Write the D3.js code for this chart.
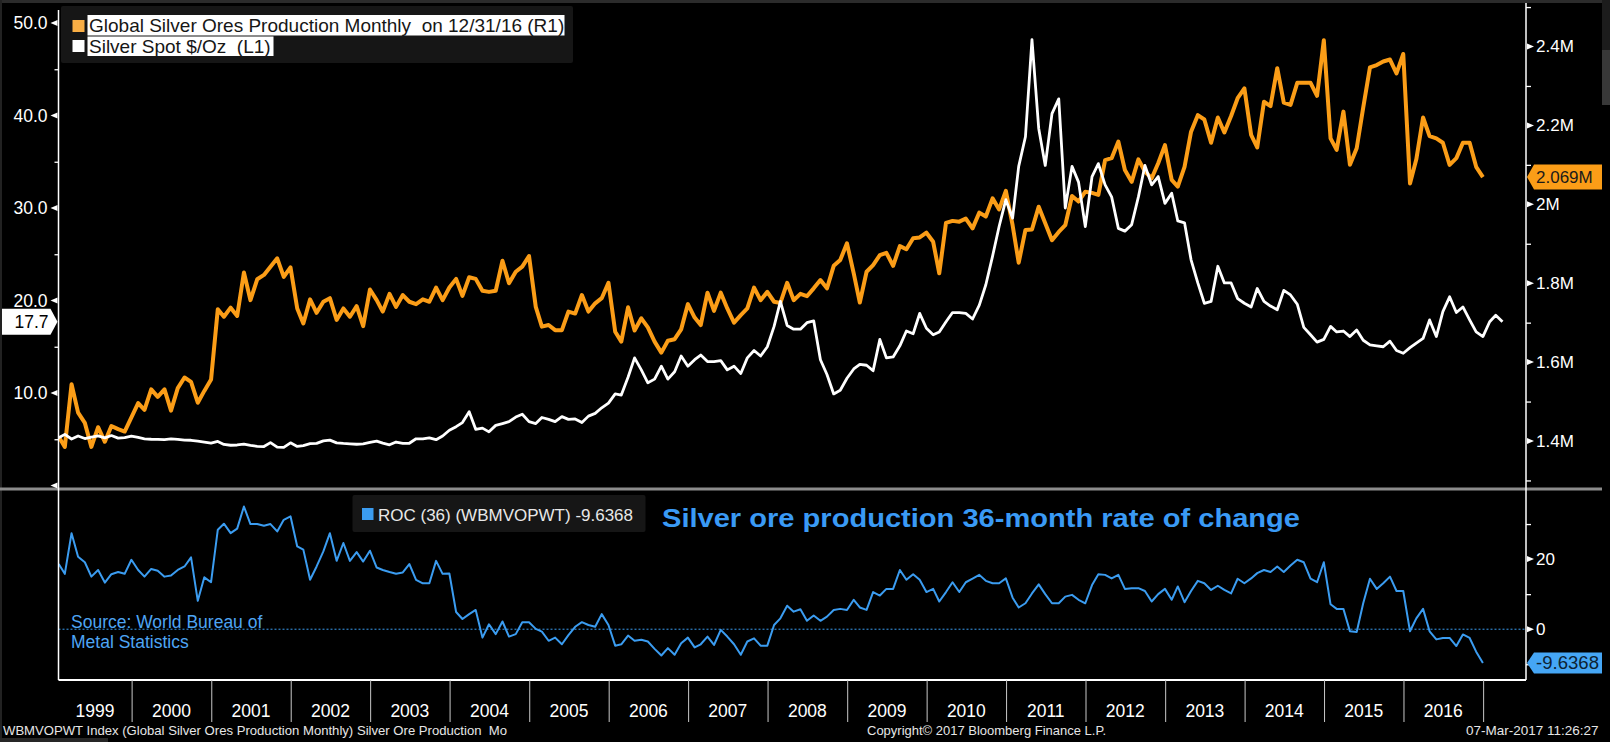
<!DOCTYPE html>
<html>
<head>
<meta charset="utf-8">
<script src="https://cdn.jsdelivr.net/npm/d3@7"></script>
<style>
body { margin: 0; background: #000; overflow: hidden; }
text { white-space: pre; }
</style>
</head>
<body>
<div id="chart"></div>
<script>
// monthly series, first point = end of Jan 1999
var firstYear = 1999;

// Global Silver Ores Production Monthly (R1), in millions
var production = [
  1.411, 1.385, 1.544, 1.472, 1.446, 1.385, 1.435, 1.398, 1.438, 1.430, 1.424, 1.460,
  1.496, 1.479, 1.531, 1.512, 1.531, 1.477, 1.534, 1.561, 1.550, 1.497, 1.527, 1.556,
  1.734, 1.715, 1.738, 1.717, 1.827, 1.757, 1.810, 1.821, 1.842, 1.863, 1.816, 1.840,
  1.736, 1.698, 1.759, 1.725, 1.753, 1.762, 1.707, 1.736, 1.715, 1.742, 1.691, 1.784,
  1.757, 1.728, 1.773, 1.740, 1.770, 1.753, 1.747, 1.759, 1.753, 1.789, 1.757, 1.789,
  1.811, 1.768, 1.815, 1.811, 1.781, 1.778, 1.781, 1.857, 1.800, 1.829, 1.842, 1.869,
  1.740, 1.690, 1.694, 1.681, 1.681, 1.728, 1.723, 1.770, 1.728, 1.749, 1.762, 1.801,
  1.677, 1.652, 1.739, 1.680, 1.711, 1.688, 1.652, 1.624, 1.654, 1.658, 1.683, 1.747,
  1.713, 1.694, 1.776, 1.730, 1.776, 1.736, 1.700, 1.719, 1.736, 1.789, 1.757, 1.778,
  1.753, 1.750, 1.801, 1.757, 1.773, 1.767, 1.787, 1.808, 1.787, 1.844, 1.859, 1.901,
  1.825, 1.751, 1.829, 1.846, 1.871, 1.877, 1.844, 1.894, 1.886, 1.914, 1.916, 1.928,
  1.905, 1.825, 1.953, 1.958, 1.956, 1.964, 1.939, 1.979, 1.969, 2.015, 1.987, 2.034,
  1.947, 1.852, 1.935, 1.936, 1.994, 1.952, 1.909, 1.930, 1.947, 2.021, 2.007, 2.032,
  2.029, 2.024, 2.112, 2.117, 2.159, 2.087, 2.057, 2.114, 2.083, 2.066, 2.104, 2.150,
  2.062, 2.045, 2.095, 2.184, 2.226, 2.215, 2.156, 2.220, 2.182, 2.224, 2.269, 2.294,
  2.176, 2.144, 2.260, 2.249, 2.345, 2.258, 2.252, 2.308, 2.308, 2.308, 2.275, 2.416,
  2.167, 2.138, 2.235, 2.100, 2.142, 2.245, 2.347, 2.353, 2.362, 2.367, 2.332, 2.381,
  2.053, 2.114, 2.220, 2.173, 2.167, 2.156, 2.100, 2.117, 2.156, 2.156, 2.095, 2.069
];

// Silver Spot $/Oz (L1)
var silver = [
  5.16, 5.53, 5.03, 5.35, 5.08, 5.23, 5.36, 5.15, 5.40, 5.12, 5.17, 5.33,
  5.20, 5.05, 5.00, 4.99, 4.95, 5.03, 4.98, 4.90, 4.89, 4.79, 4.70, 4.58,
  4.77, 4.44, 4.35, 4.38, 4.47, 4.33, 4.24, 4.21, 4.64, 4.15, 4.13, 4.61,
  4.22, 4.31, 4.52, 4.56, 4.83, 4.91, 4.61, 4.55, 4.51, 4.46, 4.51, 4.67,
  4.80, 4.58, 4.40, 4.70, 4.56, 4.57, 5.05, 5.03, 5.15, 4.95, 5.35, 5.97,
  6.36, 6.80, 7.98, 6.07, 6.20, 5.80, 6.50, 6.70, 6.90, 7.40, 7.70, 6.90,
  6.70, 7.35, 7.15, 6.90, 7.45, 7.15, 7.20, 6.80, 7.50, 7.80, 8.40, 8.90,
  9.90, 9.78, 11.70, 13.80, 12.50, 11.10, 11.50, 12.90, 11.50, 12.30, 14.00, 12.90,
  13.60, 14.10, 13.40, 13.40, 13.50, 12.50, 12.90, 12.10, 13.80, 14.60, 14.00, 15.00,
  17.20, 19.90, 17.30, 16.90, 16.90, 17.60, 17.80, 13.60, 12.00, 9.90, 10.30, 11.60,
  12.60, 13.10, 13.00, 12.40, 15.80, 13.80, 13.90, 15.10, 16.70, 16.40, 18.60, 17.00,
  16.30, 16.60, 17.70, 18.70, 18.70, 18.60, 18.00, 19.50, 21.70, 24.80, 28.00, 30.90,
  28.90, 34.50, 37.70, 48.20, 38.60, 34.60, 40.20, 41.80, 30.00, 34.50, 32.80, 28.00,
  33.40, 34.80, 32.50, 31.20, 27.80, 27.50, 28.20, 31.20, 34.60, 32.50, 33.40, 30.50,
  31.60, 28.60, 28.40, 24.40, 21.90, 19.70, 19.90, 23.70, 21.90, 21.90, 20.20, 19.70,
  19.30, 21.30, 19.90, 19.40, 19.00, 21.10, 20.60, 19.60, 17.10, 16.30, 15.50, 15.80,
  17.20, 16.60, 16.70, 16.10, 16.80, 15.70, 15.20, 15.10, 15.00, 15.60, 14.60, 14.30,
  14.90, 15.40, 15.90, 17.90, 16.10, 18.80, 20.40, 18.70, 19.30, 17.90, 16.60, 16.10,
  17.70, 18.40, 17.70
];

// ROC (36) of WBMVOPWT
var roc = [
  18.6, 15.8, 27.4, 20.7, 19.1, 15.0, 16.9, 13.3, 15.7, 16.3, 15.8, 19.8,
  16.9, 15.0, 17.2, 16.7, 15.0, 15.3, 16.9, 17.9, 20.5, 8.1, 14.8, 13.4,
  28.4, 30.1, 27.4, 28.7, 35.0, 30.0, 30.0, 29.5, 30.0, 27.9, 31.2, 32.2,
  23.6, 22.7, 14.1, 17.9, 22.2, 27.4, 19.5, 24.6, 19.5, 22.0, 19.3, 22.4,
  17.6, 16.9, 16.3, 15.8, 16.2, 18.6, 14.1, 13.1, 13.1, 19.5, 15.8, 15.9,
  4.9, 2.9, 4.3, 5.5, -2.4, 1.4, -1.4, 2.2, -2.1, -1.4, 2.0, 2.0,
  0.1, -0.7, -3.3, -2.4, -4.3, -1.7, 0.7, 2.0, 1.2, 0.7, 4.3, 1.2,
  -4.7, -4.3, -1.8, -3.3, -3.0, -3.5, -5.6, -7.5, -5.4, -7.3, -4.0, -2.4,
  -5.2, -4.3, -2.1, -4.5, -0.2, -2.1, -4.3, -7.3, -3.5, -2.6, -4.7, -4.7,
  1.2, 3.1, 6.7, 5.0, 5.7, 2.4, 3.9, 2.4, 3.6, 5.5, 5.8, 5.5,
  8.4, 6.2, 5.5, 10.6, 9.6, 11.5, 11.5, 16.9, 14.1, 15.7, 14.1, 10.6,
  11.5, 7.9, 10.6, 13.4, 10.6, 13.4, 14.4, 15.5, 13.8, 13.1, 13.1, 14.5,
  9.0, 6.2, 7.4, 10.2, 12.8, 10.0, 7.4, 7.4, 9.3, 9.8, 8.4, 7.4,
  12.6, 15.7, 15.5, 14.5, 15.5, 11.5, 11.7, 11.7, 10.9, 7.9, 10.0, 11.5,
  8.4, 12.2, 7.7, 10.9, 13.8, 13.1, 11.2, 12.4, 11.2, 10.2, 14.4, 13.1,
  14.5, 16.0, 16.9, 16.3, 17.9, 16.3, 18.2, 19.8, 19.1, 14.4, 13.4, 19.1,
  7.1, 5.8, 5.8, -0.6, -0.8, 7.4, 14.4, 11.5, 13.1, 15.0, 10.9, 10.9,
  -0.6, 3.1, 5.8, -0.6, -2.9, -2.5, -2.5, -4.8, -1.5, -2.5, -6.4, -9.6368
];

var years = ["1999","2000","2001","2002","2003","2004","2005","2006","2007",
             "2008","2009","2010","2011","2012","2013","2014","2015","2016"];
var leftTicks = [10, 20, 30, 40, 50];
var leftMinor = [5, 15, 25, 35, 45];
var rightTicks = [1.4, 1.6, 1.8, 2.0, 2.2, 2.4];
var rightMinor = [1.3, 1.5, 1.7, 1.9, 2.1, 2.3, 2.5];
var rocTicks = [0, 20];
var rocMinor = [-10, 10, 30];

var W = 1610, H = 742;
var plotL = 58.5, plotR = 1526, topT = 4.5, topB = 485.5, sepY = 489, botB = 680;
var orange = "#fb9d17", blue = "#3b9cf0";
var font = "'Liberation Sans', Arial, sans-serif";

var svg = d3.select("#chart").append("svg")
    .attr("width", W).attr("height", H)
    .style("font-family", font);

function drawrect(x, y, w, h, col) {
    return svg.append("rect").attr("x", x).attr("y", y)
        .attr("width", w).attr("height", h).attr("fill", col);
}

function disptext(tex, x, y, col, size) {
    return svg.append("text").text(tex)
        .attr("x", x).attr("y", y)
        .attr("font-size", size).attr("fill", col);
}

// squeeze/stretch a text to the width it has in the picture
function fit(t, target) {
    var w = t.node().getComputedTextLength();
    if (Math.abs(w - target) / target > 0.02) {
        t.attr("textLength", target).attr("lengthAdjust", "spacingAndGlyphs");
    }
    return t;
}

function monthEnd(i) {
    return new Date(firstYear, i + 1, 0);
}

var x = d3.scaleTime().domain([new Date(1999, 0, 30), new Date(2017, 6, 17)]).range([plotL, plotR]);
var yL = d3.scaleLinear().domain([0, 52]).range([topB, topT]);
var yR = d3.scaleLinear().domain([1.2872, 2.5065]).range([topB, topT]);
var yB = d3.scaleLinear().domain([-14.49, 40]).range([botB, sepY]);

// frame
drawrect(0, 0, W, H, "#000");
drawrect(0, 0, W, 3, "#2b2b2b");
drawrect(0, 0, 2, H, "#222");
drawrect(1602, 0, 8, 50, "#1c1c1c");
drawrect(1602, 50, 8, 55, "#383838");
drawrect(0, 738, 108, 4, "#262626");

var defs = svg.append("defs");
defs.append("clipPath").attr("id", "clipTop").append("rect")
    .attr("x", plotL).attr("y", 3).attr("width", plotR - plotL).attr("height", sepY - 3);
defs.append("clipPath").attr("id", "clipBot").append("rect")
    .attr("x", plotL).attr("y", sepY + 2).attr("width", plotR - plotL).attr("height", botB - sepY - 2);

// top legend
drawrect(61, 6, 512, 57, "#161616").attr("rx", 2);
drawrect(72.5, 20, 12, 12, "#f9ae45");
drawrect(87.5, 15, 477, 20.5, "#fff");
fit(disptext("Global Silver Ores Production Monthly  on 12/31/16 (R1)", 89, 32, "#161616", 19), 473);
drawrect(72.5, 40, 12, 12, "#fff");
drawrect(87.5, 36.5, 186, 19.5, "#fff");
fit(disptext("Silver Spot $/Oz  (L1)", 89, 52.5, "#161616", 19), 182);

// series, top panel
var lineR = d3.line().x(function(d, i) { return x(monthEnd(i)); }).y(function(d) { return yR(d); });
var lineL = d3.line().x(function(d, i) { return x(monthEnd(i)); }).y(function(d) { return yL(d); });
var lineB = d3.line().x(function(d, i) { return x(monthEnd(i)); }).y(function(d) { return yB(d); });

svg.append("path").datum(production).attr("clip-path", "url(#clipTop)")
    .attr("d", lineR).attr("fill", "none").attr("stroke", orange)
    .attr("stroke-width", 4).attr("stroke-linejoin", "round");
svg.append("path").datum(silver).attr("clip-path", "url(#clipTop)")
    .attr("d", lineL).attr("fill", "none").attr("stroke", "#fff")
    .attr("stroke-width", 2.8).attr("stroke-linejoin", "round");

// bottom panel
svg.append("line").attr("x1", plotL).attr("x2", plotR)
    .attr("y1", yB(0)).attr("y2", yB(0))
    .attr("stroke", blue).attr("stroke-width", 1).attr("stroke-dasharray", "2,2");

disptext("Source: World Bureau of", 71, 628, "#4ea5f4", 17.5);
disptext("Metal Statistics", 71, 647.5, "#4ea5f4", 17.5);

svg.append("path").datum(roc).attr("clip-path", "url(#clipBot)")
    .attr("d", lineB).attr("fill", "none").attr("stroke", blue)
    .attr("stroke-width", 2).attr("stroke-linejoin", "round");

drawrect(352.5, 495, 293, 37, "#161616").attr("rx", 2);
drawrect(362, 508, 11.5, 12, blue);
fit(disptext("ROC (36) (WBMVOPWT) " + roc[roc.length - 1], 378, 520.5, "#e8e8e8", 17), 258);

fit(disptext("Silver ore production 36-month rate of change", 662, 527, "#3a9af5", 26)
    .attr("font-weight", "bold"), 638);

// separator between panels
drawrect(0, sepY - 1.5, 1602, 3, "#8c8c8c");

// axis lines
svg.append("line").attr("x1", plotL).attr("x2", plotL).attr("y1", 10).attr("y2", botB)
    .attr("stroke", "#fff").attr("stroke-width", 1.5);
svg.append("line").attr("x1", plotR).attr("x2", plotR).attr("y1", 3).attr("y2", botB)
    .attr("stroke", "#fff").attr("stroke-width", 1.5);
svg.append("line").attr("x1", plotL).attr("x2", plotR).attr("y1", botB).attr("y2", botB)
    .attr("stroke", "#fff").attr("stroke-width", 2);

function styleAxis(g, size) {
    g.select(".domain").remove();
    g.selectAll("text").attr("fill", "#fff").attr("font-size", size).style("font-family", font);
    g.selectAll(".tick line").attr("stroke", "#fff").attr("stroke-width", 1.3);
}

// left axis (silver)
var gL = svg.append("g").attr("transform", "translate(" + plotL + ",0)")
    .call(d3.axisLeft(yL).tickValues(leftTicks).tickSize(0).tickPadding(11).tickFormat(d3.format(".1f")));
styleAxis(gL, 17.5);
svg.append("g").attr("transform", "translate(" + plotL + ",0)")
    .call(d3.axisLeft(yL).tickValues(leftMinor).tickSize(4).tickFormat(""))
    .call(styleAxis, 17.5);
svg.selectAll(".markL").data(leftTicks.concat([0])).enter().append("path")
    .attr("d", function(d) { var y = yL(d); return "M" + (plotL - 1) + "," + (y - 3) + "L" + (plotL - 8) + "," + y + "L" + (plotL - 1) + "," + (y + 3) + "Z"; })
    .attr("fill", "#fff");

// right axis (production)
var gR = svg.append("g").attr("transform", "translate(" + plotR + ",0)")
    .call(d3.axisRight(yR).tickValues(rightTicks).tickSize(0).tickPadding(10)
        .tickFormat(function(d) { return d3.format("~g")(d) + "M"; }));
styleAxis(gR, 17);
svg.append("g").attr("transform", "translate(" + plotR + ",0)")
    .call(d3.axisRight(yR).tickValues(rightMinor).tickSize(5).tickFormat(""))
    .call(styleAxis, 17);

// right axis (roc)
var gB = svg.append("g").attr("transform", "translate(" + plotR + ",0)")
    .call(d3.axisRight(yB).tickValues(rocTicks).tickSize(0).tickPadding(10).tickFormat(d3.format("d")));
styleAxis(gB, 17);
svg.append("g").attr("transform", "translate(" + plotR + ",0)")
    .call(d3.axisRight(yB).tickValues(rocMinor).tickSize(5).tickFormat(""))
    .call(styleAxis, 17);

svg.selectAll(".markR").data(rightTicks.map(yR).concat(rocTicks.map(yB))).enter().append("path")
    .attr("d", function(y) { return "M" + (plotR + 1) + "," + (y - 3) + "L" + (plotR + 8) + "," + y + "L" + (plotR + 1) + "," + (y + 3) + "Z"; })
    .attr("fill", "#fff");

// last value tags
function tagRight(y, col, tex, tcol, size) {
    svg.append("path")
        .attr("d", "M" + (plotR + 1) + "," + y + "L" + (plotR + 8) + "," + (y - 12.5) + "L1602," + (y - 12.5) +
              "L1602," + (y + 12.5) + "L" + (plotR + 8) + "," + (y + 12.5) + "Z")
        .attr("fill", col);
    disptext(tex, plotR + 10, y + 6, tcol, size);
}
tagRight(yR(production[production.length - 1]), orange,
    d3.format(".3f")(production[production.length - 1]) + "M", "#1a1a1a", 17);
var yRoc = yB(roc[roc.length - 1]);
svg.append("path")
    .attr("d", "M" + (plotR + 1) + "," + yRoc + "L" + (plotR + 8) + "," + (yRoc - 10.5) + "L1602," + (yRoc - 10.5) +
          "L1602," + (yRoc + 10.5) + "L" + (plotR + 8) + "," + (yRoc + 10.5) + "Z")
    .attr("fill", "#45a6f5");
fit(disptext(String(roc[roc.length - 1]), plotR + 10, yRoc + 6.5, "#0d2233", 18), 63);

var ySil = yL(silver[silver.length - 1]);
svg.append("path")
    .attr("d", "M2," + (ySil - 13) + "L" + (plotL - 8) + "," + (ySil - 13) + "L" + (plotL - 1) + "," + ySil +
          "L" + (plotL - 8) + "," + (ySil + 13) + "L2," + (ySil + 13) + "Z")
    .attr("fill", "#fff");
disptext(d3.format(".1f")(silver[silver.length - 1]), plotL - 10, ySil + 6.5, "#000", 17.5)
    .attr("text-anchor", "end");

// year separators and labels
var bounds = years.slice(1).map(function(y) { return new Date(+y, 0, 1); })
    .concat([new Date(+years[years.length - 1] + 1, 0, 1)]);
svg.append("g").attr("transform", "translate(0," + botB + ")")
    .call(d3.axisBottom(x).tickValues(bounds).tickSize(42).tickFormat(""))
    .call(function(g) {
        g.select(".domain").remove();
        g.selectAll(".tick line").attr("stroke", "#c8c8c8").attr("stroke-width", 1);
    });
years.forEach(function(y) {
    var a = Math.max(x(new Date(+y, 0, 1)), plotL);
    var b = x(new Date(+y + 1, 0, 1));
    disptext(y, (a + b) / 2, 717, "#fff", 17.5).attr("text-anchor", "middle");
});

// footer
fit(disptext("WBMVOPWT Index (Global Silver Ores Production Monthly) Silver Ore Production  Mo", 3, 735, "#e6e6e6", 13.5), 504);
fit(disptext("Copyright\u00a9 2017 Bloomberg Finance L.P.", 867, 735, "#e6e6e6", 13.5), 239);
fit(disptext("07-Mar-2017 11:26:27", 1466, 735, "#e6e6e6", 13.5), 134);
</script>
</body>
</html>
